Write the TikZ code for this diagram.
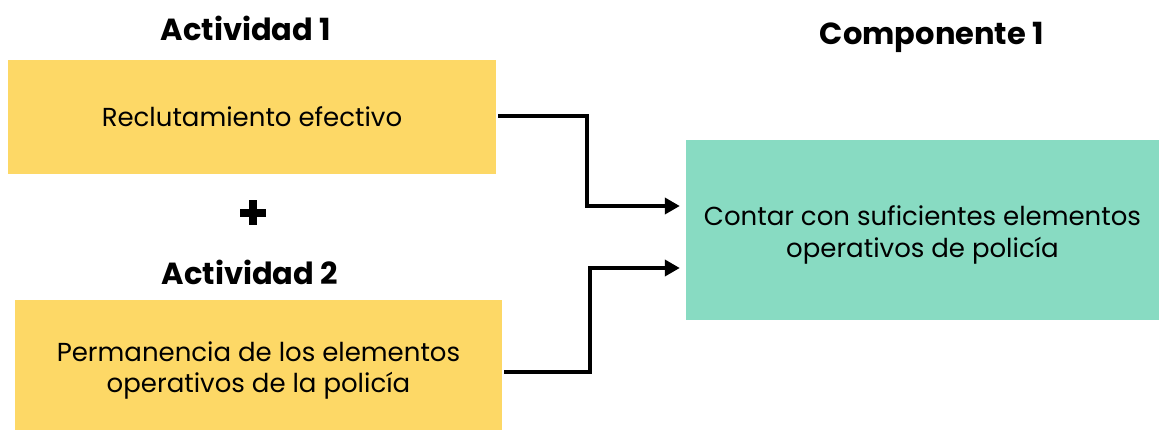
\documentclass[tikz,border=0pt]{standalone}
\usepackage{fontspec}
\setmainfont{Poppins}
\usetikzlibrary{arrows.meta,calc}
\definecolor{boxyellow}{RGB}{253,216,102}
\definecolor{boxgreen}{RGB}{136,219,194}
\newcommand{\topstrut}{\rule{0pt}{30pt}}
\tikzset{
  actbox/.style={rectangle, fill=boxyellow, inner sep=0pt, align=center, font=\fontsize{26}{31}\selectfont},
  compbox/.style={rectangle, fill=boxgreen, inner sep=0pt, align=center, font=\fontsize{26}{32}\selectfont},
  title/.style={inner sep=0pt, font=\fontsize{30.5}{34}\selectfont\bfseries},
  conn/.style={line width=4pt, -{Triangle[length=15pt,width=16pt]}, shorten >=6pt, shorten <=2pt}
}
\begin{document}
\begin{tikzpicture}[x=1pt,y=-1pt]
\useasboundingbox (0,0) rectangle (1159,433);
\node[actbox, minimum width=488pt, minimum height=114pt] (b1) at (252,117) {Reclutamiento efectivo};
\node[actbox, minimum width=487pt, minimum height=130pt] (b2) at (258.5,365) {\topstrut Permanencia de los elementos\\operativos de la policía};
\node[compbox, minimum width=473pt, minimum height=180pt] (g) at (922.5,230) {\topstrut Contar con suficientes elementos\\operativos de policía};
\node[title] (t1) at (246,28) {Actividad 1};
\node[title] (t2) at (250,272) {Actividad 2};
\node[title] (t3) at (932,37) {Componente 1};
\node[fill=black, minimum width=26pt, minimum height=8pt, inner sep=0pt] (plh) at (253,212.5) {};
\node[fill=black, minimum width=8.5pt, minimum height=25pt, inner sep=0pt] (plv) at (253,212.5) {};
\draw[conn] ([yshift=1pt]b1.east) -- ++(91,0) |- ([yshift=24pt]g.west);
\draw[conn] ([yshift=-7pt]b2.east) -- ++(88,0) |- ([yshift=-38pt]g.west);
\end{tikzpicture}
\end{document}
